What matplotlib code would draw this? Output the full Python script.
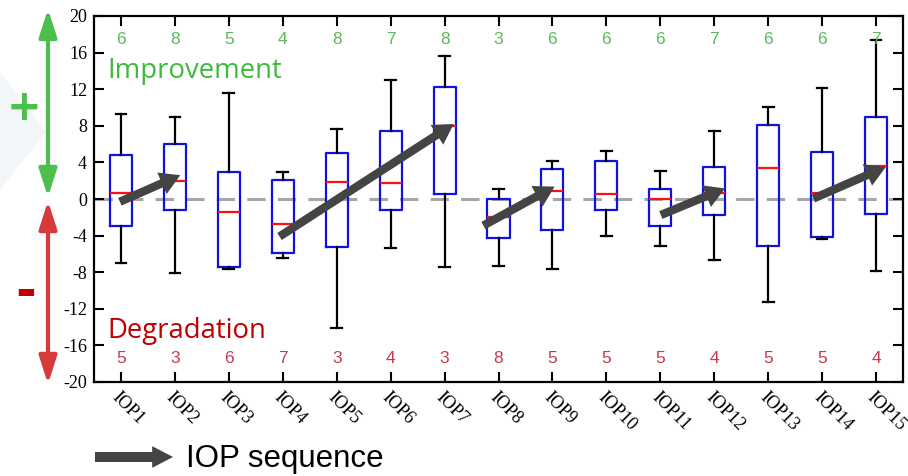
import numpy as np
import matplotlib
matplotlib.use('Agg')
import matplotlib.pyplot as plt
from matplotlib.patches import Polygon

# 박스플롯 통계
labels = ['IOP%d' % i for i in range(1, 16)]
whislo = [-7.0, -8.1, -7.7, -6.4, -14.1, -5.4, -7.4, -7.3, -7.6, -4.0, -5.1, -6.7, -11.3, -4.4, -7.9]
q1     = [-2.9, -1.2, -7.4, -5.9, -5.2, -1.2, 0.6, -4.3, -3.4, -1.2, -2.9, -1.75, -5.1, -4.1, -1.6]
med    = [0.7, 2.0, -1.4, -2.7, 1.9, 1.7, 8.0, -2.0, 0.9, 0.5, 0.05, 0.65, 3.35, 0.7, 3.6]
q3     = [4.8, 6.0, 3.0, 2.1, 5.0, 7.4, 12.2, 0.0, 3.3, 4.1, 1.1, 3.45, 8.05, 5.1, 9.0]
whishi = [9.3, 9.0, 11.6, 2.9, 7.7, 13.0, 15.6, 1.1, 4.2, 5.2, 3.1, 7.4, 10.1, 12.1, 17.4]

n_up   = [6, 8, 5, 4, 8, 7, 8, 3, 6, 6, 6, 7, 6, 6, 7]
n_down = [5, 3, 6, 7, 3, 4, 3, 8, 5, 5, 5, 4, 5, 5, 4]

# 추세 화살표 (시작 x, 시작 y, 끝 x, 끝 y)
arrows = [(0.98, -0.3, 2.1, 2.6),
          (3.94, -4.1, 7.17, 8.2),
          (7.72, -2.9, 9.04, 1.35),
          (11.01, -1.75, 12.2, 1.15),
          (13.84, 0.05, 15.18, 3.5)]

plt.rcParams['font.family'] = ['Liberation Serif', 'DejaVu Serif']
plt.rcParams['axes.unicode_minus'] = False

fig = plt.figure(figsize=(9.08, 4.76), dpi=100)

# 왼쪽 배경의 옅은 삼각형
fig.patches.append(Polygon([[0, 1 - 72 / 476], [46 / 908, 1 - 132 / 476], [0, 1 - 190 / 476]],
                           closed=True, transform=fig.transFigure, facecolor='#f3f6f9',
                           edgecolor='none', zorder=-5))

ax = fig.add_axes([94 / 908, 1 - 382 / 476, 809 / 908, 366 / 476])

stats = []
for i in range(len(labels)):
    stats.append({'label': labels[i], 'whislo': whislo[i], 'q1': q1[i], 'med': med[i],
                  'q3': q3[i], 'whishi': whishi[i], 'fliers': []})

pos = np.arange(1, len(labels) + 1)
ax.axhline(0, color='#a6a6a6', lw=2.2, dashes=(6, 4), zorder=1)
ax.bxp(stats, positions=pos, widths=0.41, showfliers=False, patch_artist=False,
       boxprops=dict(color='#1010e0', lw=1.6),
       medianprops=dict(color='#ff1010', lw=1.6),
       whiskerprops=dict(color='black', lw=1.6),
       capprops=dict(color='black', lw=1.6),
       capwidths=0.2)

for (x0, y0, x1, y1) in arrows:
    ax.annotate('', xy=(x1, y1), xytext=(x0, y0),
                arrowprops=dict(arrowstyle='simple,head_width=1.4,head_length=1.2,tail_width=0.5',
                                mutation_scale=12, color='#444444', lw=0, shrinkA=0, shrinkB=0),
                zorder=5)

for i in range(len(labels)):
    ax.text(pos[i], 17.4, str(n_up[i]), color='#5cb85c', fontsize=12.5,
            family='Liberation Sans', ha='center', va='center')
    ax.text(pos[i], -17.4, str(n_down[i]), color='#c93a4e', fontsize=12.5,
            family='Liberation Sans', ha='center', va='center')

ax.text(0.74, 14.0, 'Improvement', color='#3cba3c', fontsize=19.8, family='Open Sans',
        ha='left', va='center')
ax.text(0.74, -14.4, 'Degradation', color='#c00000', fontsize=19.8, family='Open Sans',
        ha='left', va='center')

ax.set_xlim(0.5, 15.5)
ax.set_ylim(-20, 20)
ax.set_yticks(np.arange(-20, 21, 4))
ax.set_xticks(pos)
ax.set_xticklabels(labels, rotation=-45, ha='left', va='top', rotation_mode='anchor',
                   fontsize=13)
ax.tick_params(axis='y', labelsize=13)
ax.tick_params(direction='in', length=7, width=1.5, top=True, right=True, labelright=False)
ax.tick_params(axis='x', pad=5)
ax.tick_params(axis='y', pad=5)
for s in ax.spines.values():
    s.set_linewidth(1.6)

# 왼쪽 + / - 화살표
fig_ax = fig.add_axes([0, 0, 1, 1], facecolor='none')
fig_ax.set_xlim(0, 908)
fig_ax.set_ylim(476, 0)
fig_ax.axis('off')
fig_ax.annotate('', xy=(48, 9), xytext=(48, 197),
                arrowprops=dict(arrowstyle='<|-|>,head_width=0.45,head_length=1.4',
                                mutation_scale=12, color='#4cbf4c', lw=3, shrinkA=0, shrinkB=0))
fig_ax.annotate('', xy=(48, 201), xytext=(48, 384),
                arrowprops=dict(arrowstyle='<|-|>,head_width=0.45,head_length=1.4',
                                mutation_scale=12, color='#d63a3a', lw=3, shrinkA=0, shrinkB=0))
fig_ax.text(24, 108, '+', color='#4cbf4c', fontsize=30, fontweight='bold', family='DejaVu Sans',
            ha='center', va='center')
fig_ax.text(26, 293, '-', color='#c00000', fontsize=36, fontweight='bold', family='DejaVu Sans',
            ha='center', va='center')

# 하단 IOP sequence
fig_ax.annotate('', xy=(173, 457), xytext=(95, 457),
                arrowprops=dict(arrowstyle='simple,head_width=1.3,head_length=1.25,tail_width=0.6',
                                mutation_scale=12, color='#444444', lw=0, shrinkA=0, shrinkB=0))
fig_ax.text(186, 459, 'IOP sequence', color='black', fontsize=22.5, family='Liberation Sans',
            ha='left', va='center')

fig.savefig('out.png', dpi=100)
